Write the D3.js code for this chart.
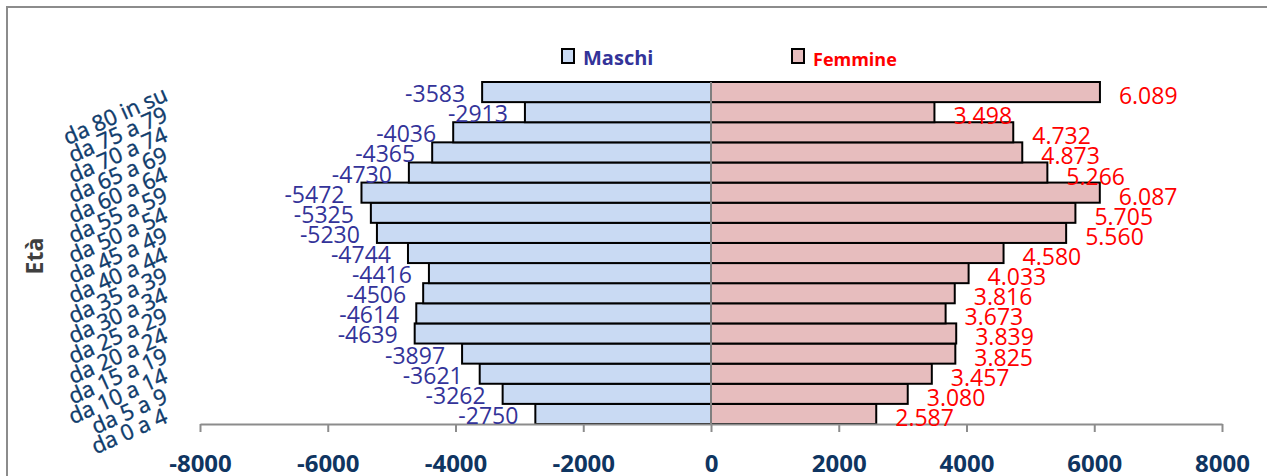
<!DOCTYPE html>
<html>
<head>
<meta charset="utf-8">
<script src="https://cdn.jsdelivr.net/npm/d3@7"></script>
<style>
  html, body { margin: 0; padding: 0; background: #fff; }
  svg { display: block; }
</style>
</head>
<body>
<svg id="chart" width="1267" height="476"></svg>
<script>
// ---- data (bottom to top) ----
const categories = ["da 0 a 4","da 5 a 9","da 10 a 14","da 15 a 19","da 20 a 24","da 25 a 29","da 30 a 34","da 35 a 39","da 40 a 44","da 45 a 49","da 50 a 54","da 55 a 59","da 60 a 64","da 65 a 69","da 70 a 74","da 75 a 79","da 80 in su"];
const maschi = [-2750,-3262,-3621,-3897,-4639,-4614,-4506,-4416,-4744,-5230,-5325,-5472,-4730,-4365,-4036,-2913,-3583];
const femmine = [2587,3080,3457,3825,3839,3673,3816,4033,4580,5560,5705,6087,5266,4873,4732,3498,6089];
const xTicks = [-8000,-6000,-4000,-2000,0,2000,4000,6000,8000];
const seriesNames = ["Maschi","Femmine"];

const svg = d3.select("#chart");
const W = 1267, H = 476;

// frame
svg.append("rect").attr("x",7).attr("y",7).attr("width",W).attr("height",H)
  .attr("fill","#fff").attr("stroke","#8c8c8c").attr("stroke-width",2);

const x = d3.scaleLinear().domain([-8000,8000]).range([200,1222]);
const y = d3.scaleBand().domain(categories.slice().reverse()).range([82,424]).padding(0);

const rows = categories.map((c,i)=>({c, m: maschi[i], f: femmine[i]}));
const itFmt = d3.formatLocale({decimal:",", thousands:".", grouping:[3], currency:["","€"]}).format(",");

const maleFill = "#c9daf3", femaleFill = "#e7bdbe";

// bars
svg.append("g").selectAll("rect").data(rows).join("rect")
  .attr("x", d => x(d.m)).attr("width", d => x(0) - x(d.m))
  .attr("y", d => y(d.c)).attr("height", y.bandwidth())
  .attr("fill", maleFill).attr("stroke","#000").attr("stroke-width",2);
svg.append("g").selectAll("rect").data(rows).join("rect")
  .attr("x", x(0)).attr("width", d => x(d.f) - x(0))
  .attr("y", d => y(d.c)).attr("height", y.bandwidth())
  .attr("fill", femaleFill).attr("stroke","#000").attr("stroke-width",2);

// zero line
svg.append("line").attr("x1",x(0)).attr("x2",x(0)).attr("y1",y.range()[0]).attr("y2",y.range()[1])
  .attr("stroke","#7f7f7f").attr("stroke-width",2);

// axis
const axis = svg.append("g").attr("transform",`translate(0,${y.range()[1]})`)
  .call(d3.axisBottom(x).tickValues(xTicks).tickFormat(d => String(d)).tickSize(8).tickSizeOuter(0));
axis.select(".domain").attr("stroke","#8c8c8c").attr("stroke-width",2);
axis.selectAll(".tick line").attr("stroke","#8c8c8c").attr("stroke-width",2);
axis.selectAll(".tick text")
  .attr("y", 48).attr("dy", 0)
  .attr("fill","#0f3561").style("font-family","'Open Sans'").style("font-size","24px").style("font-weight","bold");

// data labels
svg.append("g").selectAll("text").data(rows).join("text")
  .attr("x", d => x(d.m) - 17).attr("y", d => y(d.c) + y.bandwidth()/2 + 1)
  .attr("text-anchor","end").attr("dominant-baseline","central")
  .attr("fill","#333399").style("font-family","'Open Sans'").style("font-size","23px")
  .text(d => String(d.m));
svg.append("g").selectAll("text").data(rows).join("text")
  .attr("x", d => x(d.f) + 19).attr("y", d => y(d.c) + y.bandwidth()/2 + 3)
  .attr("text-anchor","start").attr("dominant-baseline","central")
  .attr("fill","#ff0000").style("font-family","'Open Sans'").style("font-size","23px")
  .text(d => itFmt(d.f));

// category labels (rotated)
svg.append("g").selectAll("text").data(rows).join("text")
  .attr("transform", d => `translate(169,${y(d.c) + y.bandwidth()/2 + 8}) rotate(-24)`)
  .attr("text-anchor","end")
  .attr("fill","#0f3c6c").attr("stroke","#0f3c6c").attr("stroke-width",0.4)
  .style("font-family","'Open Sans'").style("font-size","22px")
  .text(d => d.c);

// y title
svg.append("text").attr("transform","translate(43,256) rotate(-90)")
  .attr("text-anchor","middle").attr("fill","#3f3f3f")
  .style("font-family","'Open Sans'").style("font-size","23px").style("font-weight","bold")
  .text("Età");

// legend
const legend = [
  {name: seriesNames[0], fill: maleFill, color:"#333399", sx:562, tx:583, size:20, base:65},
  {name: seriesNames[1], fill: femaleFill, color:"#ff0000", sx:792, tx:813, size:18, base:66}
];
const lg = svg.append("g").selectAll("g").data(legend).join("g");
lg.append("rect").attr("x", d => d.sx).attr("y", 49).attr("width", 12).attr("height", 14)
  .attr("fill", d => d.fill).attr("stroke","#000").attr("stroke-width",2);
lg.append("text").attr("x", d => d.tx).attr("y", d => d.base)
  .attr("fill", d => d.color).style("font-family","'Open Sans'").style("font-weight","bold")
  .style("font-size", d => d.size + "px").text(d => d.name);
</script>
</body>
</html>
